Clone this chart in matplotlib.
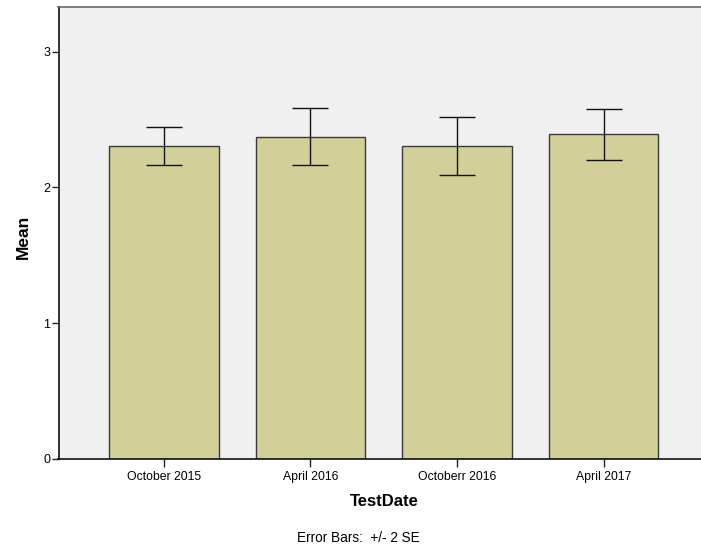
import matplotlib
matplotlib.use('Agg')
import matplotlib.pyplot as plt
import numpy as np

plt.rcParams['font.family'] = ['Liberation Sans', 'DejaVu Sans']

# data
dates = ['October 2015', 'April 2016', 'Octoberr 2016', 'April 2017']
means = [2.306, 2.375, 2.306, 2.395]
err_low = [2.168, 2.164, 2.090, 2.205]
err_high = [2.444, 2.589, 2.520, 2.579]

fig = plt.figure(figsize=(7.01, 5.49), dpi=100)
ax = fig.add_axes([58.5 / 701, 1 - 458.7 / 549, (709 - 58.5) / 701, (458.7 - 6.7) / 549])
ax.set_facecolor('#f0f0f0')

x = np.arange(len(dates))
m = np.array(means)
yerr = [m - np.array(err_low), np.array(err_high) - m]
ax.bar(x, means, width=0.75, color='#d3cf98', edgecolor='#3a3a3a', linewidth=1.0, zorder=2)
ax.errorbar(x, means, yerr=yerr, fmt='none', ecolor='#111111', elinewidth=1.0,
            capsize=13.3, capthick=1.0, zorder=3)

ax.set_xlim(-0.72, 3.72)
ax.set_ylim(0, 3.333)
ax.set_yticks([0, 1, 2, 3])
ax.set_xticks(x)
ax.set_xticklabels(dates, fontsize=8.8)
ax.tick_params(axis='y', length=5, width=1, labelsize=9, pad=1, color='#222222')
ax.tick_params(axis='x', length=6, width=1, pad=3, color='#222222')

for s in ['left', 'bottom']:
    ax.spines[s].set_color('#111111')
    ax.spines[s].set_linewidth(1.2)
ax.spines['top'].set_color('#666666')
ax.spines['top'].set_linewidth(1.2)
ax.spines['right'].set_visible(False)

fig.text(23 / 701, 1 - 237 / 549, 'Mean', rotation=90, fontsize=12.5, fontweight='bold',
         ha='center', va='center')
fig.text(384 / 701, 1 - 501 / 549, 'TestDate', fontsize=12, fontweight='bold',
         ha='center', va='center')
fig.text(358 / 701, 1 - 538 / 549, 'Error Bars:  +/- 2 SE', fontsize=9.8,
         ha='center', va='center')

fig.savefig('out.png', dpi=100, facecolor='white')
